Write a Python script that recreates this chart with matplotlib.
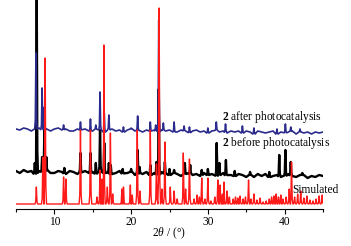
import numpy as np
import matplotlib
matplotlib.use("Agg")
import matplotlib.pyplot as plt

plt.rcParams['font.family'] = ['Liberation Serif', 'DejaVu Serif']
plt.rcParams['mathtext.fontset'] = 'custom'
plt.rcParams['mathtext.rm'] = 'Liberation Serif'
plt.rcParams['mathtext.it'] = 'Liberation Serif:italic'
plt.rcParams['mathtext.bf'] = 'Liberation Serif:bold'

# baseline samples every 0.5 deg from 5 to 45 (intensity, arbitrary units)
base_x = np.arange(5, 45.01, 0.5)
red_base = [5] * 81
black_base = [38, 36, 39, 37, 38, 35, 38, 37, 39, 36, 36, 38, 37, 35, 38, 37, 35, 37, 38, 36,
              37, 35, 38, 36, 37, 34, 36, 38, 35, 36, 37, 34, 36, 35, 37, 34, 36, 34, 37, 35,
              34, 36, 35, 33, 35, 36, 34, 35, 33, 36, 34, 35, 33, 34, 36, 33, 34, 33, 35, 34,
              32, 34, 32, 35, 33, 35, 32, 33, 34, 32, 33, 35, 33, 32, 34, 34, 31, 33, 32, 34, 33]
blue_base = [80, 79, 81, 80, 78, 80, 81, 79, 80, 78, 80, 81, 79, 80, 78, 78, 80, 79, 80, 78,
             78, 80, 79, 77, 79, 80, 78, 79, 77, 79, 80, 78, 79, 77, 79, 78, 79, 77, 79, 78,
             79, 77, 77, 79, 78, 76, 78, 79, 77, 78, 76, 78, 79, 77, 78, 76, 78, 77, 78, 76,
             78, 77, 75, 78, 77, 76, 77, 78, 75, 77, 76, 77, 78, 75, 77, 76, 77, 75, 77, 76, 77]

# peaks: (2theta, top)
red_pos = [7.65, 8.5, 8.8, 11.2, 11.5, 13.4, 14.7, 15.55, 15.95, 16.2, 16.45, 16.9, 17.3, 17.6,
           18.8, 19.0, 19.9, 20.15, 20.8, 21.15, 22.5, 23.3, 23.65, 24.0, 24.4, 25.1, 25.6, 26.0,
           26.8, 27.1, 27.6, 28.2, 28.6, 28.9, 29.2, 29.6, 30.0, 30.4, 30.9, 31.3, 31.6, 31.9,
           32.1, 32.5, 32.8, 33.3, 33.6, 33.9, 34.2, 34.6, 34.9, 35.3, 35.6, 36.0, 36.4, 36.8,
           37.2, 37.6, 38.0, 38.3, 38.6, 38.9, 39.2, 39.5, 39.8, 40.2, 40.6, 40.9, 41.3, 41.7,
           42.1, 42.5, 42.9, 43.3, 43.7, 44.1, 44.5, 44.9]
red_top = [22, 52, 151, 32, 30, 79, 79, 12, 39, 30, 164, 22, 76, 15,
           20, 22, 24, 14, 79, 18, 79, 45, 201, 20, 67, 22, 18, 10,
           56, 20, 50, 10, 14, 12, 31, 10, 31, 8, 12, 29, 24, 15,
           27, 18, 12, 10, 12, 11, 13, 10, 12, 29, 10, 15, 9, 11,
           7, 8, 10, 12, 13, 15, 12, 14, 10, 12, 20, 47, 12, 15,
           18, 11, 13, 9, 8, 10, 13, 14]

black_pos = [7.45, 7.7, 8.4, 8.7, 8.95, 11.3, 13.4, 14.7, 15.4, 15.95, 16.5, 17.1, 17.35, 18.9,
             20.0, 20.85, 21.1, 22.5, 23.3, 23.6, 24.4, 25.0, 25.6, 27.0, 27.7, 29.2, 30.0,
             31.15, 31.5, 32.35, 33.5, 35.5, 38.0, 39.3, 40.1, 40.8, 42.3]
black_top = [46, 215, 52, 81, 52, 41, 56, 56, 46, 79, 66, 46, 44, 40,
             40, 59, 42, 44, 47, 120, 47, 40, 39, 46, 44, 39, 40,
             66, 46, 49, 38, 37, 37, 54, 59, 47, 36]

blue_pos = [7.6, 8.4, 8.7, 11.2, 13.4, 14.7, 15.4, 15.95, 16.5, 17.1, 19.0, 20.0, 20.85, 22.5,
            23.2, 23.6, 24.2, 25.6, 26.9, 27.6, 30.0, 31.1, 32.3, 34.5, 36.0, 39.0, 40.1, 40.8, 42.0]
blue_top = [156, 121, 102, 84, 87, 90, 84, 117, 96, 94, 82, 81, 93, 87,
            84, 189, 86, 87, 83, 82, 81, 87, 85, 83, 81, 80, 85, 82, 80]


def trace(base, pos, top, hw):
    # peak drawn as apex + low shoulders, joined to the sampled baseline
    keep = [i for i, x in enumerate(base_x) if min(abs(x - p) for p in pos) > 2 * hw]
    xs = [base_x[i] for i in keep]
    ys = [base[i] for i in keep]
    for p, t in zip(pos, top):
        b = np.interp(p, base_x, base)
        s = b + 0.12 * (t - b)
        xs += [p - 2 * hw, p - hw, p, p + hw, p + 2 * hw]
        ys += [b, s, t, s, b]
    order = np.argsort(xs, kind='stable')
    return np.array(xs)[order], np.array(ys)[order]


fig = plt.figure(figsize=(3.51, 2.46), dpi=100)
ax = fig.add_axes([16 / 351, 37 / 246, 307 / 351, 209 / 246])

x, y = trace(black_base, black_pos, black_top, 0.08)
ax.plot(x, y, color='black', lw=1.7)
x, y = trace(blue_base, blue_pos, blue_top, 0.08)
ax.plot(x, y, color='#2a2a8c', lw=1.2)
x, y = trace(red_base, red_pos, red_top, 0.09)
ax.plot(x, y, color='#ff1a1a', lw=1.0)

ax.text(31.9, 92, r'$\mathbf{2}$ after photocatalysis', fontsize=8.3, va='center')
ax.text(31.9, 66, r'$\mathbf{2}$ before photocatalysis', fontsize=8.3, va='center')
ax.text(41.0, 19, 'Simulated', fontsize=8.3, va='center')

ax.set_xlim(5, 45)
ax.set_ylim(0, 209)
for s in ['left', 'right', 'top']:
    ax.spines[s].set_visible(False)
ax.spines['bottom'].set_linewidth(0.8)
ax.set_yticks([])
ax.set_xticks([10, 20, 30, 40])
ax.set_xticks([5, 15, 25, 35, 45], minor=True)
ax.tick_params(axis='x', which='major', direction='out', length=3.5, width=0.8, labelsize=8.3, pad=1.5)
ax.tick_params(axis='x', which='minor', direction='out', length=2.5, width=0.8)
ax.set_xlabel(r'2$\it{\theta}$ / (°)', fontsize=8.3, labelpad=-1.5)

fig.savefig('out.png', dpi=100)
